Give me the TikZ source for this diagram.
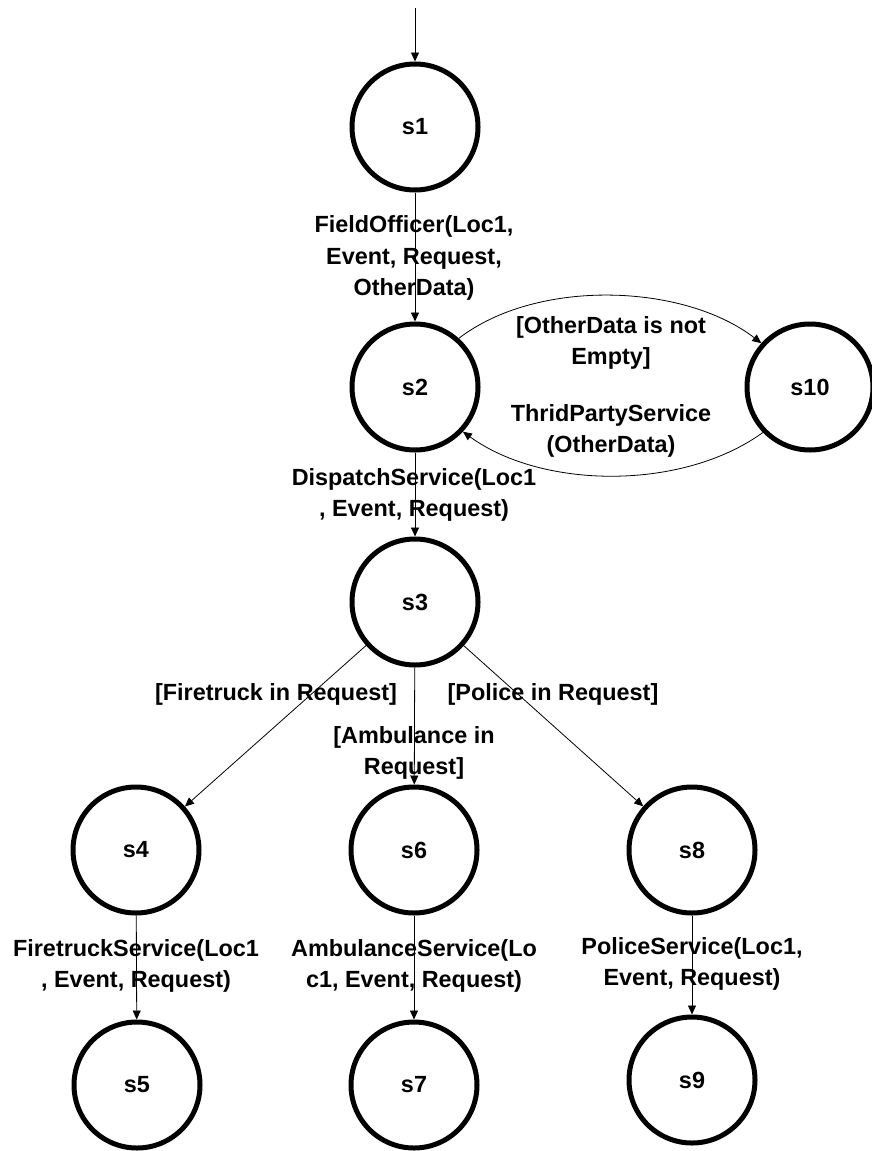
\documentclass[tikz,border=0pt]{standalone}
\usepackage{fontspec}
\setmainfont{Liberation Sans}
\usetikzlibrary{arrows.meta}
\begin{document}
\begin{tikzpicture}[x=1pt,y=-1pt,
 state/.style={circle,draw,line width=5pt,minimum size=126pt,inner sep=0pt,font=\fontsize{23.4}{31.5}\selectfont\bfseries},
 lbl/.style={align=center,inner sep=0pt,font=\fontsize{23.4}{31.5}\selectfont\bfseries},
 tr/.style={line width=0.8pt,-{Triangle[length=9pt,width=8pt]}}]
\useasboundingbox (0,0) rectangle (872,1151);
\node[state] (s1) at (415,127) {s1};
\node[state] (s2) at (415,387) {s2};
\node[state] (s10) at (810,387) {s10};
\node[state] (s3) at (415,602) {s3};
\node[state] (s4) at (136,850) {s4};
\node[state] (s6) at (414,850) {s6};
\node[state] (s8) at (692,850) {s8};
\node[state] (s5) at (137,1085) {s5};
\node[state] (s7) at (414,1085) {s7};
\node[state] (s9) at (692,1080) {s9};
\coordinate (start) at (415,8);
\draw[tr] (start) -- (s1);
\draw[tr] (s1) -- (s2);
\draw[tr] (s2.48) .. controls +(78,-60) and +(-78,-60) .. (s10.138);
\draw[tr] (s10.224) .. controls +(-80,58) and +(80,58) .. (s2.-43);
\draw[tr] (s2) -- (s3);
\draw[tr] (s3) -- (s4);
\draw[tr] (s3) -- (s6);
\draw[tr] (s3) -- (s8);
\draw[tr] (s4) -- (s5);
\draw[tr] (s6) -- (s7);
\draw[tr] (s8) -- (s9);
\node[lbl] (l1) at (414,258) {FieldOfficer(Loc1,\\Event, Request,\\OtherData)};
\node[lbl] (l2) at (611,343) {[OtherData is not\\Empty]};
\node[lbl] (l3) at (611,431) {ThridPartyService\\(OtherData)};
\node[lbl] (l4) at (414,495) {DispatchService(Loc1\\, Event, Request)};
\node[lbl] (l5) at (276,694) {[Firetruck in Request]};
\node[lbl] (l6) at (553,694) {[Police in Request]};
\node[lbl] (l7) at (414,753) {[Ambulance in\\Request]};
\node[lbl] (l8) at (136,966) {FiretruckService(Loc1\\, Event, Request)};
\node[lbl] (l9) at (414,966) {AmbulanceService(Lo\\c1, Event, Request)};
\node[lbl] (l10) at (692,964) {PoliceService(Loc1,\\Event, Request)};
\end{tikzpicture}
\end{document}
